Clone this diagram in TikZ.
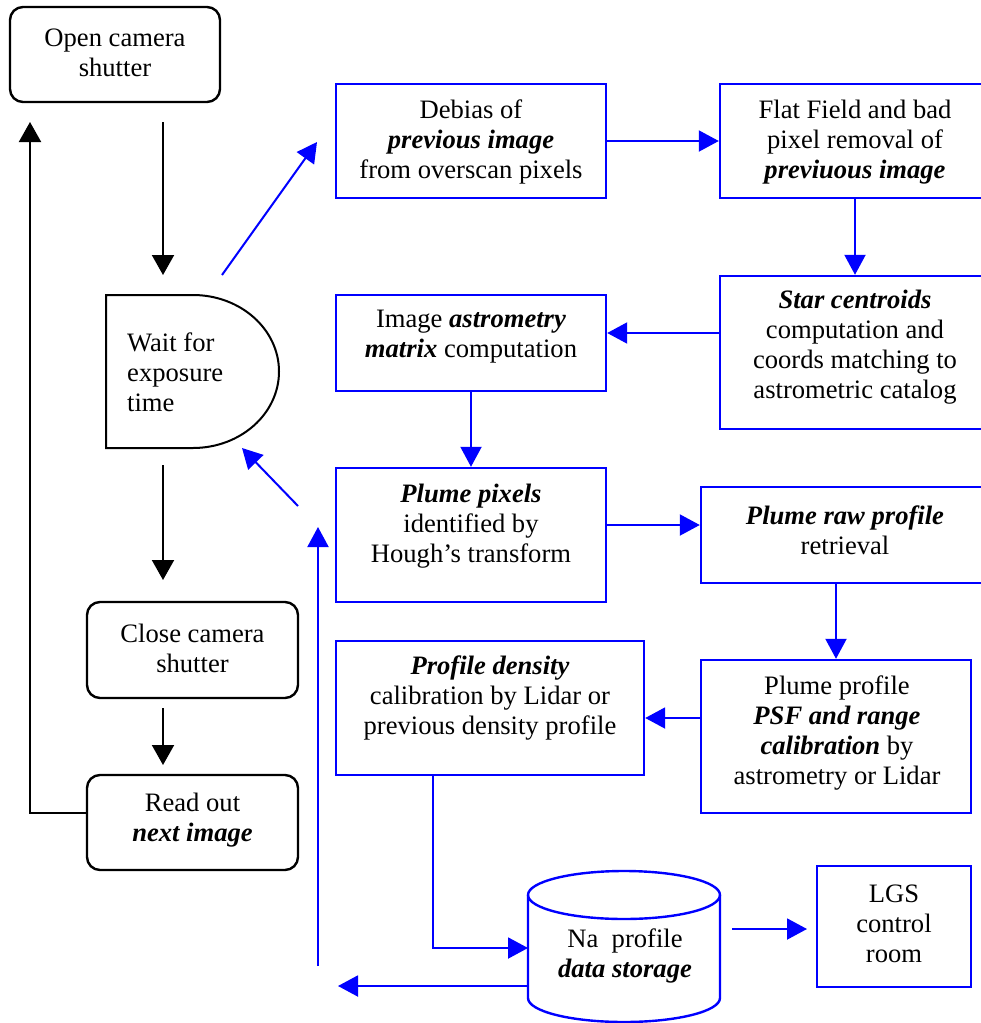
\documentclass[tikz,border=0pt]{standalone}
\usepackage{fontspec}
\setmainfont{Liberation Serif}
\usetikzlibrary{arrows.meta,calc}
\newcommand{\bfit}[1]{\textbf{\textit{#1}}}
\begin{document}
\begin{tikzpicture}[x=1pt,y=-1pt,
  rbox/.style={draw=black,line width=2.4pt,rounded corners=13pt,inner sep=0pt},
  bbox/.style={draw=blue,line width=2.4pt,inner sep=0pt},
  txt/.style={align=center,font=\fontsize{26.6}{30}\selectfont,inner sep=0pt},
  karrow/.style={draw=black,line width=2pt,-{Triangle[length=20pt,width=22pt]}},
  barrow/.style={draw=blue,line width=2pt,-{Triangle[length=20pt,width=21pt]}},
  bline/.style={draw=blue,line width=2pt},
  kline/.style={draw=black,line width=2pt}]
\useasboundingbox (0,0) rectangle (981,1023);
\clip (0,0) rectangle (981,1023);

% ---- black (camera) column ----
\node[rbox,minimum width=210pt,minimum height=95pt] (open) at (115,54.5) {};
\node[txt] (openT) at (115,53) {Open camera\\shutter};

\draw[kline,line join=miter] (106,295) -- (193,295)
  arc[start angle=90,end angle=-90,x radius=86pt,y radius=76.5pt] -- (106,448) -- cycle;
\node[txt,align=left,anchor=west] (wait) at (127,372) {Wait for\\exposure\\time};

\node[rbox,minimum width=211pt,minimum height=96pt] (close) at (192.5,650) {};
\node[txt] (closeT) at (192.5,648) {Close camera\\shutter};

\node[rbox,minimum width=211pt,minimum height=95pt] (read) at (192.5,822.5) {};
\node[txt] (readT) at (192.5,820) {Read out\\\bfit{next image}};

\coordinate (a1s) at (163,122); \coordinate (a1e) at (163,275);
\coordinate (a2s) at (163,465); \coordinate (a2e) at (163,580);
\coordinate (a3s) at (163,708); \coordinate (a3e) at (163,765);
\coordinate (loopTop) at (30,122);
\draw[karrow] (a1s) -- (a1e);
\draw[karrow] (a2s) -- (a2e);
\draw[karrow] (a3s) -- (a3e);
\draw[karrow] ([yshift=9.5pt]read.west) -| (loopTop);

% ---- blue (processing) boxes ----
\node[bbox,minimum width=270pt,minimum height=114pt] (debias) at (471,141) {};
\node[txt] (debiasT) at (471,142) {Debias of\\\bfit{previous image}\\from overscan pixels};

\node[bbox,minimum width=270pt,minimum height=114pt] (flat) at (855,141) {};
\node[txt] (flatT) at (855,142) {Flat Field and bad\\pixel removal of\\\bfit{previuous image}};

\node[bbox,minimum width=270pt,minimum height=153pt] (star) at (855,352.5) {};
\node[txt] (starT) at (855,347.5) {\bfit{Star centroids}\\computation and\\coords matching to\\astrometric catalog};

\node[bbox,minimum width=270pt,minimum height=96pt] (astro) at (471,343) {};
\node[txt] (astroT) at (471,337) {Image \bfit{astrometry}\\\bfit{matrix} computation};

\node[bbox,minimum width=270pt,minimum height=134pt] (pixels) at (471,535) {};
\node[txt] (pixelsT) at (471,526) {\bfit{Plume pixels}\\identified by\\Hough’s transform};

\node[bbox,minimum width=289pt,minimum height=96pt] (raw) at (845.5,535) {};
\node[txt] (rawT) at (845,530) {\bfit{Plume raw profile}\\retrieval};

\node[bbox,minimum width=270pt,minimum height=153pt] (psf) at (836,736.5) {};
\node[txt] (psfT) at (837,733) {Plume profile\\\bfit{PSF and range}\\\bfit{calibration} by\\astrometry or Lidar};

\node[bbox,minimum width=308pt,minimum height=134pt] (dens) at (490,708) {};
\node[txt] (densT) at (490,698) {\bfit{Profile density}\\calibration by Lidar or\\previous density profile};

\node[bbox,minimum width=154pt,minimum height=121pt] (lgs) at (894,926.5) {};
\node[txt] (lgsT) at (894,924) {LGS\\control\\room};

% cylinder
\draw[bline,line width=2.4pt] (528,895) -- (528,998)
  arc[start angle=180,end angle=360,x radius=96pt,y radius=24pt] -- (720,895);
\draw[bline,line width=2.4pt] (624,895) ellipse[x radius=96pt,y radius=24pt];
\node[txt] (cyl) at (625,956) {Na\ \ profile\\\bfit{data storage}};
\coordinate (cylIn) at (528,948);
\coordinate (cylOut) at (528,986);
\coordinate (backEnd) at (338,986);
\coordinate (upS) at (318,966); \coordinate (upE) at (318,527);
\coordinate (lgsS) at (732,929); \coordinate (lgsE) at (807,929);
\coordinate (diagS) at (222,275); \coordinate (diagE) at (317,142);
\coordinate (retS) at (298,506); \coordinate (retE) at (242,448);

% ---- blue connectors ----
\draw[barrow] (diagS) -- (diagE);
\draw[barrow] (debias) -- (flat);
\draw[barrow] (flat) -- (star);
\draw[barrow] ([yshift=19.5pt]star.west) -- ([yshift=10pt]astro.east);
\draw[barrow] (astro) -- (pixels);
\draw[barrow] ([yshift=10pt]pixels.east) -- ([yshift=10pt]raw.west);
\draw[barrow] (retS) -- (retE);
\draw[barrow] (psf.north |- raw.south) -- (psf.north);
\draw[barrow] ([yshift=18.5pt]psf.west) -- ([yshift=-10pt]dens.east);
\draw[barrow] ([xshift=-57pt]dens.south) |- (cylIn);
\draw[barrow] (cylOut) -- (backEnd);
\draw[barrow] (upS) -- (upE);
\draw[barrow] (lgsS) -- (lgsE);
\end{tikzpicture}
\end{document}
